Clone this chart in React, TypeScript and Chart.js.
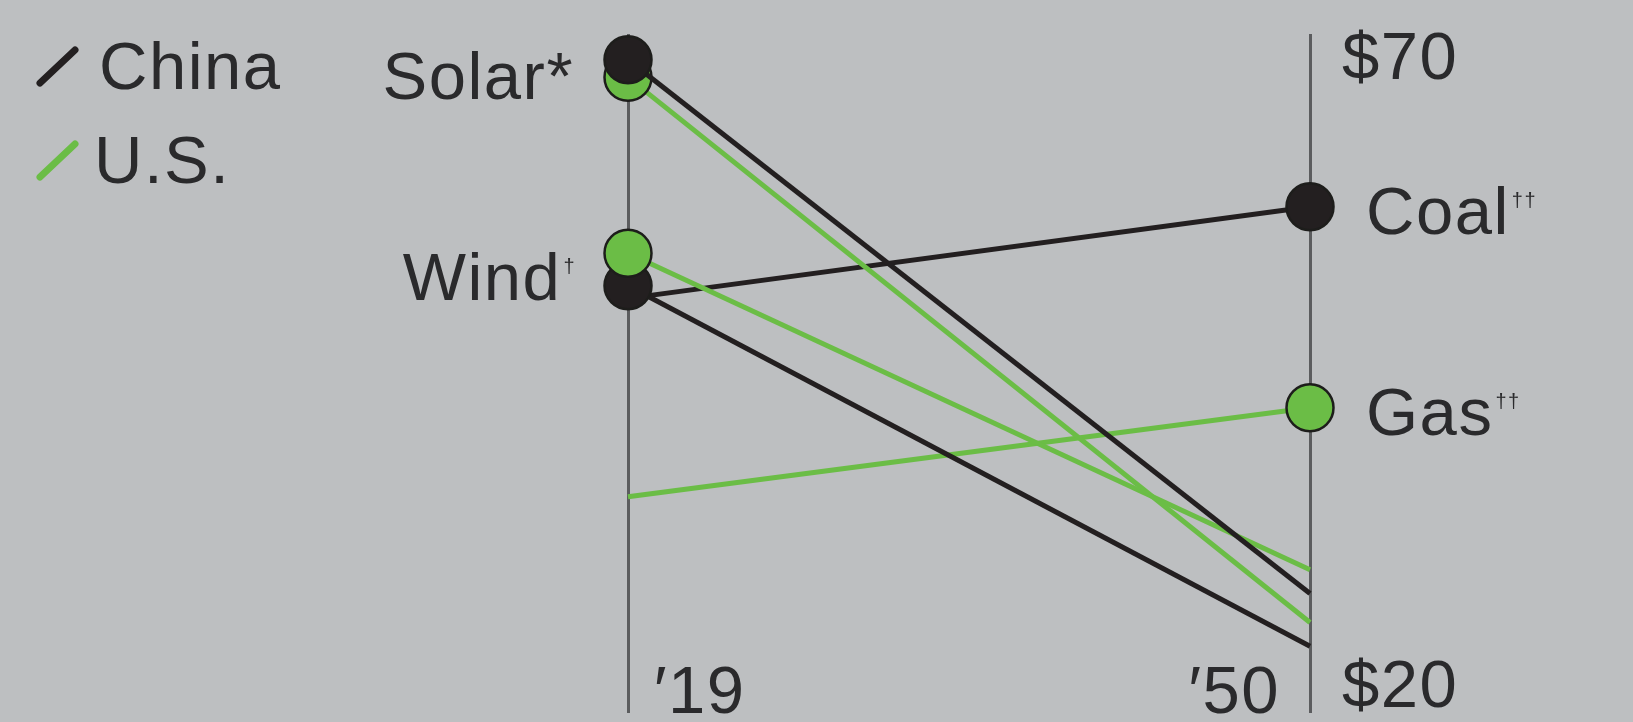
import React, { useEffect, useRef } from 'react';
import { Chart, registerables } from 'chart.js';

Chart.register(...registerables);

// ---------- data ----------
const years = [2019, 2050];
const yearLabels = ['\u203219', '\u203250'];
const seriesNames = ['China', 'U.S.'];
const techNames = ['Solar', 'Wind', 'Coal', 'Gas'];
const techMarks = ['*', '\u2020', '\u2020\u2020', '\u2020\u2020'];
// cost per MWh, 2019 -> 2050
const chinaSolar = [70.1, 27.6];
const usSolar = [68.7, 25.3];
const usWind = [54.7, 29.5];
const chinaWind = [52.1, 23.4];
const chinaCoal = [51.1, 58.4];
const usGas = [35.3, 42.4];
const yTickValues = [20, 70];
const yTickLabels = ['$20', '$70'];

// ---------- style ----------
const BG = '#bdbfc1';
const BLACK = '#231f20';
const GREEN = '#6bbd46';
const TEXT = '#2a2a2c';
const AXIS = '#5b5c5e';
const FONT = '"Liberation Sans", Arial, sans-serif';
const FS = 67;
const LS = '1.5px';

type Series = { values: number[]; country: number; tech: number; dotEnd: number };
// first dataset is painted last (on top)
const seriesList: Series[] = [
  { values: chinaSolar, country: 0, tech: 0, dotEnd: 0 },
  { values: usSolar, country: 1, tech: 0, dotEnd: 0 },
  { values: usWind, country: 1, tech: 1, dotEnd: 0 },
  { values: chinaWind, country: 0, tech: 1, dotEnd: 0 },
  { values: chinaCoal, country: 0, tech: 2, dotEnd: 1 },
  { values: usGas, country: 1, tech: 3, dotEnd: 1 },
];
const countryColors = [BLACK, GREEN];

const spacingPlugin = {
  id: 'spacing',
  beforeDraw(chart: any) {
    (chart.ctx as any).letterSpacing = LS;
  },
};

const overlayPlugin = {
  id: 'overlay',
  afterDatasetsDraw(chart: any) {
    const ctx = chart.ctx as CanvasRenderingContext2D;
    const xs = chart.scales.x;
    const ys = chart.scales.y;
    ctx.save();
    (ctx as any).letterSpacing = LS;
    ctx.fillStyle = TEXT;

    // legend
    seriesNames.forEach((name, i) => {
      const baseY = 89 + i * 94;
      ctx.strokeStyle = countryColors[i];
      ctx.lineWidth = 7;
      ctx.lineCap = 'round';
      ctx.beginPath();
      ctx.moveTo(40, baseY - 6);
      ctx.lineTo(75, baseY - 39);
      ctx.stroke();
      ctx.font = `${FS}px ${FONT}`;
      ctx.textAlign = 'left';
      ctx.textBaseline = 'alphabetic';
      ctx.fillStyle = TEXT;
      ctx.fillText(name, i === 0 ? 99 : 94, baseY);
    });

    // year labels
    ctx.font = `${FS}px ${FONT}`;
    ctx.textBaseline = 'alphabetic';
    ctx.textAlign = 'left';
    ctx.fillText(yearLabels[0], xs.getPixelForValue(years[0]) + 26, ys.bottom);
    ctx.textAlign = 'right';
    ctx.fillText(yearLabels[1], xs.getPixelForValue(years[1]) - 30, ys.bottom);

    // technology labels
    techNames.forEach((name, t) => {
      const members = seriesList.filter((s) => s.tech === t);
      const end = members[0].dotEnd;
      const px = members.map((s) => ys.getPixelForValue(s.values[end]));
      const mean = px.reduce((a, b) => a + b, 0) / px.length;
      const center = mean + (members.length > 1 ? 6 : 3);
      const baseline = center + 24;
      const mark = techMarks[t];
      const isSup = mark !== '*';
      ctx.font = `${FS}px ${FONT}`;
      const mainText = isSup ? name : name + mark;
      const mainW = ctx.measureText(mainText).width;
      ctx.font = `20px ${FONT}`;
      const supW = isSup ? ctx.measureText(mark).width : 0;
      let xStart: number;
      if (end === 0) {
        const right = xs.getPixelForValue(years[0]) - 54;
        xStart = right - mainW - supW;
      } else {
        xStart = xs.getPixelForValue(years[1]) + 56;
      }
      ctx.textAlign = 'left';
      ctx.font = `${FS}px ${FONT}`;
      ctx.fillText(mainText, xStart, baseline);
      if (isSup) {
        ctx.font = `20px ${FONT}`;
        ctx.fillText(mark, xStart + mainW + 2, baseline - 27);
      }
    });
    ctx.restore();
  },
};

export default function App() {
  const canvasRef = useRef<HTMLCanvasElement | null>(null);

  useEffect(() => {
    if (!canvasRef.current) return;
    const datasets = seriesList.map((s) => ({
      label: seriesNames[s.country] + ' ' + techNames[s.tech],
      data: s.values.map((v, i) => ({ x: years[i], y: v })),
      borderColor: countryColors[s.country],
      backgroundColor: countryColors[s.country],
      borderWidth: 5,
      pointBackgroundColor: countryColors[s.country],
      pointBorderColor: '#1d1d1b',
      pointBorderWidth: 2.5,
      pointRadius: (c: any) => (c.dataIndex === s.dotEnd ? 23.5 : 0),
      pointHoverRadius: (c: any) => (c.dataIndex === s.dotEnd ? 23.5 : 0),
      tension: 0,
      clip: false as any,
    }));

    const chart = new Chart(canvasRef.current, {
      type: 'line',
      data: { datasets },
      options: {
        animation: false,
        responsive: false,
        devicePixelRatio: 1,
        events: [],
        layout: { autoPadding: false, padding: { left: 628, top: 34, right: 0, bottom: 9 } },
        plugins: { legend: { display: false }, tooltip: { enabled: false } },
        scales: {
          x: {
            type: 'linear',
            min: years[0],
            max: years[1],
            afterBuildTicks: (axis: any) => {
              axis.ticks = years.map((v) => ({ value: v }));
            },
            afterFit: (axis: any) => {
              axis.height = 0;
              axis.paddingLeft = 0;
              axis.paddingRight = 0;
              axis.paddingTop = 0;
              axis.paddingBottom = 0;
            },
            ticks: { display: false },
            border: { display: false },
            grid: { color: AXIS, lineWidth: 3, drawTicks: false },
          },
          y: {
            type: 'linear',
            position: 'right',
            min: 18.09,
            max: 72.15,
            afterBuildTicks: (axis: any) => {
              axis.ticks = yTickValues.map((v) => ({ value: v }));
            },
            afterFit: (axis: any) => {
              axis.width = 323;
              axis.paddingLeft = 0;
              axis.paddingRight = 0;
              axis.paddingTop = 0;
              axis.paddingBottom = 0;
            },
            ticks: {
              padding: 32,
              color: TEXT,
              font: { family: FONT, size: FS },
              callback: (v: any) => {
                const i = yTickValues.indexOf(Number(v));
                return i >= 0 ? yTickLabels[i] : '';
              },
            },
            border: { display: false },
            grid: { display: false, drawTicks: false },
          },
        },
      },
      plugins: [spacingPlugin, overlayPlugin],
    });
    return () => chart.destroy();
  }, []);

  return (
    <div style={{ position: 'fixed', left: 0, top: 0, width: 1633, height: 722, background: BG }}>
      <canvas ref={canvasRef} width={1633} height={722} style={{ width: 1633, height: 722, display: 'block' }} />
    </div>
  );
}
